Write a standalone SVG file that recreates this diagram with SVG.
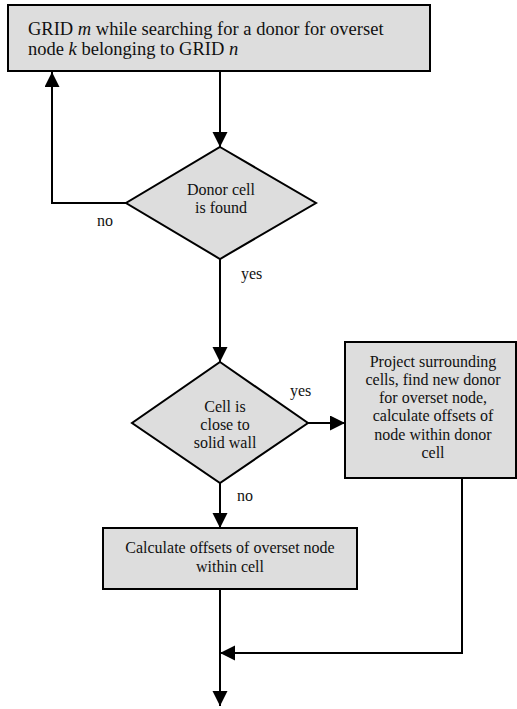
<svg xmlns="http://www.w3.org/2000/svg" width="517" height="709" viewBox="0 0 517 709">
<style>
.box{fill:#dddddd;stroke:#000;stroke-width:2}
.ln{fill:none;stroke:#000;stroke-width:2}
text{font-family:'Liberation Serif','Times New Roman',Tinos,'DejaVu Serif',serif;fill:#111;font-size:16px}
.c{text-anchor:middle}
.big{font-size:18.5px}
</style>
<defs>
<marker id="ah" markerUnits="userSpaceOnUse" markerWidth="16" markerHeight="16" refX="15" refY="7.5" orient="auto">
<path d="M0,0 L15,7.5 L0,15 Z" fill="#000"/>
</marker>
</defs>
<rect width="517" height="709" fill="#fff"/>
<g id="connectors" font-family="Liberation Serif, serif">
<line class="ln" x1="220" y1="72" x2="220" y2="147" marker-end="url(#ah)"/>
<polyline class="ln" points="126,203 52,203 52,72" marker-end="url(#ah)"/>
<line class="ln" x1="220" y1="259" x2="220" y2="362" marker-end="url(#ah)"/>
<line class="ln" x1="308" y1="423" x2="345" y2="423" marker-end="url(#ah)"/>
<line class="ln" x1="220" y1="483" x2="220" y2="528" marker-end="url(#ah)"/>
<polyline class="ln" points="462,478 462,653 220,653" marker-end="url(#ah)"/>
<line class="ln" x1="220" y1="589" x2="220" y2="706" marker-end="url(#ah)"/>
<text x="97" y="226">no</text>
<text x="241" y="279">yes</text>
<text x="290" y="396">yes</text>
<text x="237" y="501">no</text>
</g>
<g id="start" font-family="Liberation Serif, serif">
<rect class="box" x="8" y="5" width="422" height="66"/>
<text class="big" x="28" y="35">GRID <tspan font-style="italic">m</tspan> while searching for a donor for overset</text>
<text class="big" x="28" y="55">node <tspan font-style="italic">k</tspan> belonging to GRID <tspan font-style="italic">n</tspan></text>
</g>
<g id="found" font-family="Liberation Serif, serif">
<polygon class="box" points="220,147 316,203 220,259 126,203"/>
<text class="c" x="221" y="195">Donor cell</text>
<text class="c" x="221" y="213">is found</text>
</g>
<g id="wall" font-family="Liberation Serif, serif">
<polygon class="box" points="220,362 308,423 220,483 132,423"/>
<text class="c" x="225" y="412">Cell is</text>
<text class="c" x="225" y="430">close to</text>
<text class="c" x="225" y="448">solid wall</text>
</g>
<g id="project" font-family="Liberation Serif, serif">
<rect class="box" x="345" y="342" width="171" height="136"/>
<text class="c" x="433" y="367">Project surrounding</text>
<text class="c" x="433" y="385">cells, find new donor</text>
<text class="c" x="433" y="403">for overset node,</text>
<text class="c" x="433" y="421">calculate offsets of</text>
<text class="c" x="433" y="440">node within donor</text>
<text class="c" x="433" y="458">cell</text>
</g>
<g id="calc" font-family="Liberation Serif, serif">
<rect class="box" x="103" y="528" width="254" height="61"/>
<text class="c" x="230" y="553">Calculate offsets of overset node</text>
<text class="c" x="230" y="572">within cell</text>
</g>
</svg>
